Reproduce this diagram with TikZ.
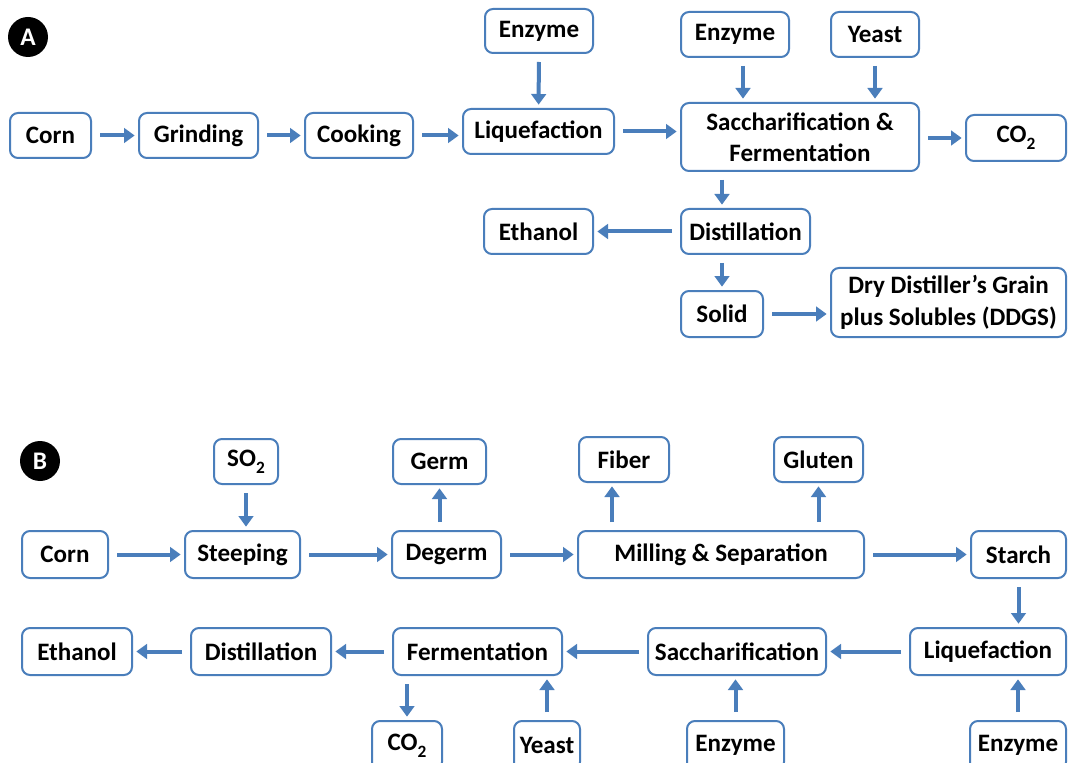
\documentclass[tikz,border=0pt]{standalone}
\usepackage{fontspec}
\setmainfont{Carlito}
\usetikzlibrary{arrows.meta}
\definecolor{bl}{HTML}{4A7EBB}
\newcommand\bx[6]{\node[box, minimum width={(#4-#2)*0.75pt}, minimum height={(#5-#3)*0.75pt}] (#1) at ({(#2+#4)/2},{(#3+#5)/2}) {#6};}
\newcommand\subtwo{\raisebox{-0.28em}{\fontsize{13}{13}\selectfont 2}}
\tikzset{
  box/.style={draw=bl, line width=1.5pt, rounded corners=6pt, fill=white, inner sep=0pt, align=center,
    font=\bfseries\fontsize{18.8}{23.5}\selectfont},
  arr/.style={draw=bl, line width=3pt, -{Triangle[length=8pt,width=11pt]}, shorten <=6pt, shorten >=2.5pt},
  circ/.style={circle, fill=black, text=white, minimum size=30pt, inner sep=0pt, font=\bfseries\fontsize{19}{20}\selectfont}
}
\begin{document}
\begin{tikzpicture}[x=0.75pt,y=-0.75pt]
\clip (0,0) rectangle (1068,763);
\fill[white] (0,0) rectangle (1068,763);
% ---------- Part A
\node[circ] (labA) at (28,37) {A};
\bx{cornA}{10}{113}{91}{158}{Corn}
\bx{grind}{139}{113}{258}{158}{Grinding}
\bx{cook}{305}{113}{413}{158}{Cooking}
\bx{liqA}{463}{109}{614}{154}{Liquefaction}
\bx{enzA1}{485}{9}{593}{53}{Enzyme}
\bx{enzA2}{681}{12}{789}{57}{Enzyme}
\bx{yeastA}{831}{12}{919}{57}{Yeast}
\bx{sf}{681}{103}{919}{171}{Saccharification \&\\Fermentation}
\bx{co2A}{966}{115}{1066}{161}{CO\subtwo}
\bx{distA}{681}{209}{810}{254}{Distillation}
\bx{ethA}{484}{209}{593}{254}{Ethanol}
\bx{solid}{681}{291}{763}{337}{Solid}
\bx{ddgs}{831}{268}{1066}{337}{Dry Distiller’s Grain\\plus Solubles (DDGS)}
\draw[arr] (cornA) -- (grind);
\draw[arr] (grind) -- (cook);
\draw[arr] (cook.east) -- (cook.east -| liqA.west);
\draw[arr] (liqA.east) -- (liqA.east -| sf.west);
\draw[arr] (enzA1) -- (liqA);
\draw[arr] ([xshift=6pt]enzA2.south) -- ([xshift=6pt]enzA2.south |- sf.north);
\draw[arr] (yeastA.south) -- (yeastA.south |- sf.north);
\draw[arr] (sf.east |- co2A.west) -- (co2A.west);
\draw[arr] (solid.north |- sf.south) -- (solid.north |- distA.north);
\draw[arr] (distA) -- (ethA);
\draw[arr] (solid.north |- distA.south) -- (solid.north);
\draw[arr] (solid.east) -- (solid.east -| ddgs.west);
% ---------- Part B
\node[circ] (labB) at (40,461) {B};
\bx{so2}{214}{439}{278}{484}{SO\subtwo}
\bx{cornB}{22}{531}{108}{578}{Corn}
\bx{steep}{185}{531}{300}{578}{Steeping}
\bx{degerm}{392}{531}{501}{578}{Degerm}
\bx{germ}{393}{439}{486}{484}{Germ}
\bx{mill}{578}{531}{864}{578}{Milling \& Separation}
\bx{fiber}{579}{437}{669}{482}{Fiber}
\bx{gluten}{774}{437}{863}{482}{Gluten}
\bx{starch}{971}{531}{1066}{578}{Starch}
\bx{liqB}{910}{628}{1066}{675}{Liquefaction}
\bx{sacch}{648}{628}{826}{675}{Saccharification}
\bx{ferm}{393}{628}{562}{675}{Fermentation}
\bx{distB}{191}{628}{331}{675}{Distillation}
\bx{ethB}{22}{628}{132}{675}{Ethanol}
\bx{co2B}{372}{721}{442}{770}{CO\subtwo}
\bx{yeastB}{514}{721}{580}{770}{Yeast}
\bx{enzB1}{687}{721}{784}{770}{Enzyme}
\bx{enzB2}{970}{721}{1066}{770}{Enzyme}
\draw[arr] (cornB) -- (steep);
\draw[arr] (so2.south) -- (so2.south |- steep.north);
\draw[arr] (steep) -- (degerm);
\draw[arr] (germ.south |- degerm.north) -- (germ.south);
\draw[arr] (degerm) -- (mill);
\draw[arr] ([xshift=-9pt]fiber.south |- mill.north) -- ([xshift=-9pt]fiber.south);
\draw[arr] (gluten.south |- mill.north) -- (gluten.south);
\draw[arr] (mill) -- (starch);
\draw[arr] (starch.south) -- (starch.south |- liqB.north);
\draw[arr] (liqB) -- (sacch);
\draw[arr] (sacch) -- (ferm);
\draw[arr] (ferm) -- (distB);
\draw[arr] (distB) -- (ethB);
\draw[arr] (co2B.north |- ferm.south) -- (co2B.north);
\draw[arr] (yeastB.north) -- (yeastB.north |- ferm.south);
\draw[arr] (enzB1.north) -- (enzB1.north |- sacch.south);
\draw[arr] (enzB2.north) -- (enzB2.north |- liqB.south);
\end{tikzpicture}
\end{document}
